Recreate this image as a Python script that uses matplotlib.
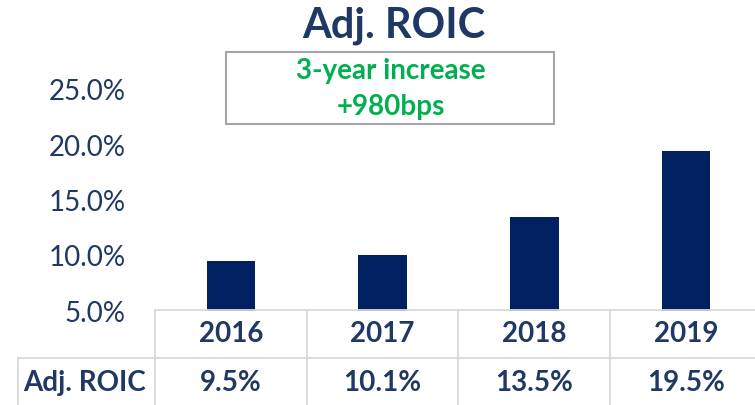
import numpy as np
from matplotlib import pyplot as plt
from matplotlib.transforms import blended_transform_factory

years = ["2016", "2017", "2018", "2019"]
roic = [9.5, 10.1, 13.5, 19.5]
yticks = [5, 10, 15, 20, 25]
title = "Adj. ROIC"
note = "3-year increase\n+980bps"

navy = "#002060"
text_navy = "#1F3864"
green = "#00B050"
grid_grey = "#D9D9D9"

plt.rcParams['font.family'] = ['Lato', 'DejaVu Sans']

W, H = 755, 405
fig = plt.figure(figsize=(W / 100, H / 100), dpi=100)

# axes spans x 155..762 px, y 90..311 px (from top)
ax = fig.add_axes([155 / W, (H - 311) / H, (762 - 155) / W, (311 - 90) / H])
x = np.arange(len(years))
ax.bar(x, [v - 5 for v in roic], bottom=5, width=0.32, color=navy)
ax.set_xlim(-0.5, 3.5)
ax.set_ylim(5, 25)
ax.set_yticks(yticks)
ax.set_yticklabels(["%.1f%%" % t for t in yticks], fontsize=20, color=text_navy)
ax.set_xticks([])
ax.tick_params(axis='y', length=0, pad=21)
for s in ax.spines.values():
    s.set_visible(False)


def fx(px):
    return px / W


def fy(py):
    return 1 - py / H


# table grid
lw = 1.3
fig.add_artist(plt.Line2D([fx(155), fx(755)], [fy(310), fy(310)], color=grid_grey, lw=lw))
fig.add_artist(plt.Line2D([fx(18), fx(755)], [fy(358), fy(358)], color=grid_grey, lw=lw))
for i in range(len(years) + 1):
    xp = 155 + i * 151.7
    fig.add_artist(plt.Line2D([fx(xp), fx(xp)], [fy(310), fy(405)], color=grid_grey, lw=lw))
fig.add_artist(plt.Line2D([fx(18), fx(18)], [fy(358), fy(405)], color=grid_grey, lw=lw))

tr = blended_transform_factory(ax.transData, fig.transFigure)
for i, (yr, v) in enumerate(zip(years, roic)):
    ax.text(i, fy(334), yr, transform=tr, ha='center', va='center',
            fontsize=20, fontweight='bold', color=text_navy)
    ax.text(i, fy(383), "%.1f%%" % v, transform=tr, ha='center', va='center',
            fontsize=20, fontweight='bold', color=text_navy)
fig.text(fx(85), fy(383), title, ha='center', va='center', fontsize=20, fontweight='bold', color=text_navy)

# title and note box
fig.text(fx(394), fy(26), title, ha='center', va='center', fontsize=30, fontweight='bold', color=text_navy)
fig.add_artist(plt.Rectangle((fx(226), fy(124)), fx(554 - 226), (124 - 52) / H,
                             fill=False, edgecolor="#A6A6A6", lw=1.5))
fig.text(fx(391), fy(89), note, ha='center', va='center', fontsize=20, fontweight='bold',
         color=green, linespacing=1.45)

fig.savefig("out.png", dpi=100)
